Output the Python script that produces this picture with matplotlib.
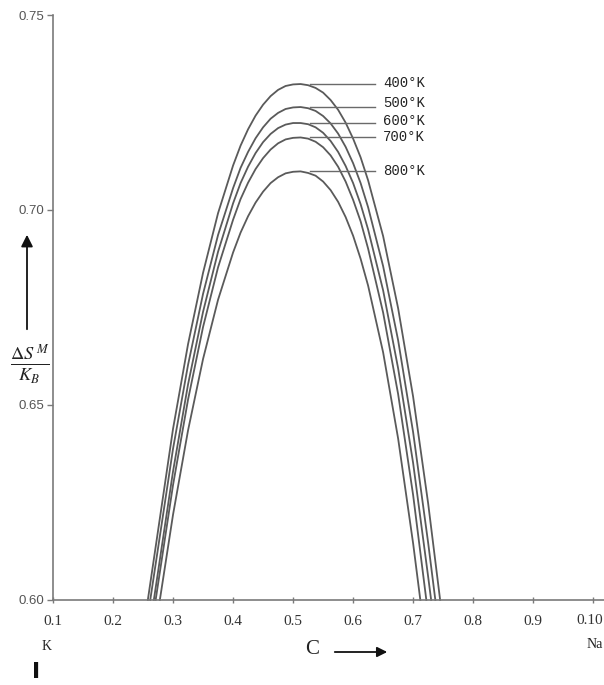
import matplotlib
matplotlib.use("Agg")
import matplotlib.pyplot as plt
import matplotlib.patches as mpatches

# ---------------- data ----------------
temperatures = ["400°K", "500°K", "600°K", "700°K", "800°K"]

x_400 = [0.258, 0.300, 0.325, 0.350, 0.375, 0.400, 0.4125, 0.425, 0.4375, 0.450, 0.4625, 0.475, 0.4875, 0.500,
         0.5125, 0.525, 0.5375, 0.550, 0.5625, 0.575, 0.5875, 0.600, 0.6125, 0.625, 0.650, 0.675, 0.700, 0.725, 0.745]
y_400 = [0.600, 0.6439, 0.6656, 0.6839, 0.6992, 0.7114, 0.7165, 0.7207, 0.7242, 0.7270, 0.7292, 0.7308, 0.7318, 0.7322,
         0.7323, 0.7320, 0.7313, 0.7301, 0.7282, 0.7257, 0.7224, 0.7183, 0.7135, 0.7076, 0.6933, 0.6748, 0.6521, 0.6248, 0.600]

x_500 = [0.262, 0.300, 0.325, 0.350, 0.375, 0.400, 0.4125, 0.425, 0.4375, 0.450, 0.4625, 0.475, 0.4875, 0.500,
         0.5125, 0.525, 0.5375, 0.550, 0.5625, 0.575, 0.5875, 0.600, 0.6125, 0.625, 0.650, 0.675, 0.700, 0.725, 0.737]
y_500 = [0.600, 0.6388, 0.6603, 0.6785, 0.6936, 0.7056, 0.7108, 0.7149, 0.7184, 0.7212, 0.7234, 0.7249, 0.7259, 0.7263,
         0.7264, 0.7261, 0.7254, 0.7241, 0.7222, 0.7196, 0.7162, 0.7120, 0.7069, 0.7007, 0.6856, 0.6666, 0.6430, 0.6147, 0.600]

x_600 = [0.268, 0.300, 0.325, 0.350, 0.375, 0.400, 0.4125, 0.425, 0.4375, 0.450, 0.4625, 0.475, 0.4875, 0.500,
         0.5125, 0.525, 0.5375, 0.550, 0.5625, 0.575, 0.5875, 0.600, 0.6125, 0.625, 0.650, 0.675, 0.700, 0.725, 0.730]
y_600 = [0.600, 0.6330, 0.6553, 0.6739, 0.6893, 0.7017, 0.7069, 0.7111, 0.7146, 0.7174, 0.7195, 0.7210, 0.7219, 0.7223,
         0.7223, 0.7220, 0.7212, 0.7198, 0.7177, 0.7149, 0.7113, 0.7069, 0.7015, 0.6950, 0.6794, 0.6594, 0.6351, 0.6060, 0.600]

x_700 = [0.271, 0.300, 0.325, 0.350, 0.375, 0.400, 0.4125, 0.425, 0.4375, 0.450, 0.4625, 0.475, 0.4875, 0.500,
         0.5125, 0.525, 0.5375, 0.550, 0.5625, 0.575, 0.5875, 0.600, 0.6125, 0.625, 0.650, 0.675, 0.700, 0.722]
y_700 = [0.600, 0.6295, 0.6514, 0.6700, 0.6853, 0.6975, 0.7028, 0.7070, 0.7105, 0.7133, 0.7155, 0.7171, 0.7181, 0.7185,
         0.7186, 0.7183, 0.7175, 0.7161, 0.7140, 0.7111, 0.7073, 0.7026, 0.6971, 0.6901, 0.6737, 0.6528, 0.6269, 0.600]

x_800 = [0.278, 0.300, 0.325, 0.350, 0.375, 0.400, 0.4125, 0.425, 0.4375, 0.450, 0.4625, 0.475, 0.4875, 0.500,
         0.5125, 0.525, 0.5375, 0.550, 0.5625, 0.575, 0.5875, 0.600, 0.6125, 0.625, 0.650, 0.675, 0.700, 0.712]
y_800 = [0.600, 0.6219, 0.6435, 0.6618, 0.6770, 0.6891, 0.6942, 0.6984, 0.7019, 0.7047, 0.7069, 0.7084, 0.7094, 0.7098,
         0.7099, 0.7095, 0.7088, 0.7073, 0.7051, 0.7021, 0.6982, 0.6934, 0.6875, 0.6806, 0.6635, 0.6414, 0.6145, 0.600]

label_y = [0.7326, 0.7274, 0.7228, 0.7187, 0.7100]
leader_y = [0.7323, 0.7264, 0.7224, 0.7186, 0.7099]

x_ticks = [0.1, 0.2, 0.3, 0.4, 0.5, 0.6, 0.7, 0.8, 0.9, 1.0]
x_tick_labels = ["0.1", "0.2", "0.3", "0.4", "0.5", "0.6", "0.7", "0.8", "0.9", "0.10"]
y_ticks = [0.60, 0.65, 0.70, 0.75]
y_tick_labels = ["0.60", "0.65", "0.70", "0.75"]

curves_x = [x_400, x_500, x_600, x_700, x_800]
curves_y = [y_400, y_500, y_600, y_700, y_800]

# ---------------- figure ----------------
plt.rcParams["mathtext.fontset"] = "stix"
W, H = 604, 685
fig = plt.figure(figsize=(W / 100, H / 100), dpi=100)
fig.patch.set_facecolor("white")


def fx(px):
    return px / W


def fy(py):
    return 1 - py / H


ax = fig.add_axes([fx(53), fy(600), fx(604) - fx(53), fy(15) - fy(600)])
ax.set_xlim(0.1, 1.018)
ax.set_ylim(0.60, 0.75)

curve_color = "#5a5a5a"
for xs, ys in zip(curves_x, curves_y):
    ax.plot(xs, ys, color=curve_color, lw=1.3, solid_joinstyle="round", clip_on=False)

# leader lines and labels
for lab, ly, ty in zip(temperatures, leader_y, label_y):
    ax.plot([0.528, 0.637], [ly, ly], color="#6a6a6a", lw=1.0)
    ax.text(0.650, ty, lab, fontsize=10, family="Liberation Mono", color="#222222",
            va="center", ha="left")

for side in ["top", "right"]:
    ax.spines[side].set_visible(False)
for side in ["left", "bottom"]:
    ax.spines[side].set_color("#7a7a7a")
    ax.spines[side].set_linewidth(1.2)

ax.set_xticks(x_ticks)
ax.set_xticklabels(x_tick_labels[:-1] + [""], family="Liberation Serif", fontsize=11, color="#333333")
ax.set_yticks(y_ticks)
ax.set_yticklabels(y_tick_labels, family="Liberation Sans", fontsize=9.5, color="#555555")
ax.tick_params(axis="x", direction="inout", length=5, width=1, color="#7a7a7a", pad=8)
ax.tick_params(axis="y", direction="out", length=4, width=1, color="#7a7a7a", pad=2)

# last tick label (cut at the right edge in the original) kept inside the figure
fig.text(fx(603), fy(621), x_tick_labels[-1], family="Liberation Serif", fontsize=11,
         color="#333333", ha="right", va="center")

# extra annotations
fig.text(fx(47), fy(647), "K", family="Liberation Serif", fontsize=10, color="#222222",
         ha="center", va="center")
fig.text(fx(603), fy(645), "Na", family="Liberation Serif", fontsize=10, color="#222222",
         ha="right", va="center")
fig.text(fx(312), fy(650), "C", family="Liberation Serif", fontsize=15, color="#222222",
         ha="center", va="center")
fig.add_artist(mpatches.FancyArrowPatch(
    (fx(332), fy(652)), (fx(390), fy(652)), transform=fig.transFigure,
    arrowstyle="-|>,head_length=6,head_width=3", color="#111111", lw=1.3))
fig.text(fx(36), fy(672), "I", family="DejaVu Sans", fontweight="bold", fontsize=16,
         color="#111111", ha="center", va="center")

# y axis label with arrow
fig.add_artist(mpatches.FancyArrowPatch(
    (fx(27), fy(332)), (fx(27), fy(232)), transform=fig.transFigure,
    arrowstyle="-|>,head_length=7,head_width=3.5", color="#111111", lw=1.3))
fig.text(fx(30), fy(364), r"$\frac{\Delta S^{\,M}}{K_{B}}$", fontsize=19, color="#222222",
         ha="center", va="center")

fig.savefig("out.png", dpi=100, facecolor="white")
